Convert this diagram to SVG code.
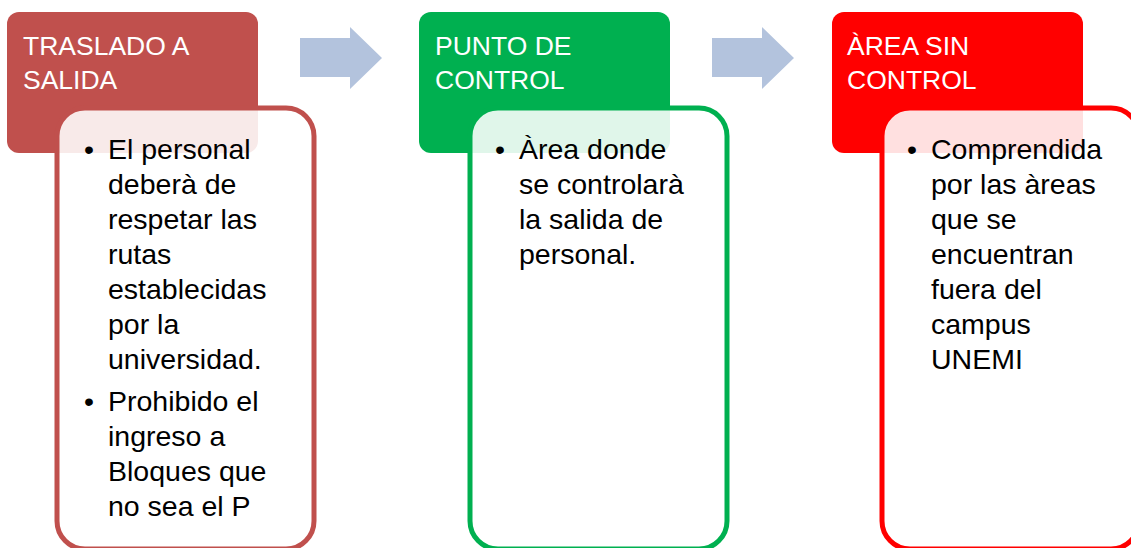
<svg xmlns="http://www.w3.org/2000/svg" width="1131" height="548" viewBox="0 0 1131 548">
<style>
.hd{font-family:"Liberation Sans",Arial,sans-serif;font-size:26.5px;fill:#fff}
.bd{font-family:"Liberation Sans",Arial,sans-serif;font-size:28.5px;fill:#000}
.card{fill:#fff;fill-opacity:0.88;stroke-width:5}
.arrow{fill:#B3C3DD}
</style>
<rect width="1131" height="548" fill="#fff"/>
<g id="connectors">
<polygon class="arrow" points="300,38 350,38 350,27 382,58 350,89 350,77 300,77"/>
<polygon class="arrow" points="712,38 762,38 762,27 794,58 762,89 762,77 712,77"/>
</g>
<g id="node1">
<rect x="7" y="12" width="251" height="141" rx="12" fill="#C0504D"/>
<text class="hd" x="23" y="55">TRASLADO A</text>
<text class="hd" x="23" y="89">SALIDA</text>
<rect class="card" x="57" y="108" width="257" height="441" rx="28" stroke="#C0504D"/>
<text class="bd"><tspan x="84" y="159">•</tspan><tspan x="108" y="159">El personal</tspan><tspan x="108" y="194">deberà de</tspan><tspan x="108" y="229">respetar las</tspan><tspan x="108" y="264">rutas</tspan><tspan x="108" y="299">establecidas</tspan><tspan x="108" y="334">por la</tspan><tspan x="108" y="369">universidad.</tspan><tspan x="84" y="411">•</tspan><tspan x="108" y="411">Prohibido el</tspan><tspan x="108" y="446">ingreso a</tspan><tspan x="108" y="481">Bloques que</tspan><tspan x="108" y="516">no sea el P</tspan></text>
</g>
<g id="node2">
<rect x="419" y="12" width="251" height="141" rx="12" fill="#00B050"/>
<text class="hd" x="435" y="55">PUNTO DE</text>
<text class="hd" x="435" y="89">CONTROL</text>
<rect class="card" x="470" y="108" width="257" height="441" rx="28" stroke="#00B050"/>
<text class="bd"><tspan x="495" y="159">•</tspan><tspan x="519" y="159">Àrea donde</tspan><tspan x="519" y="194">se controlarà</tspan><tspan x="519" y="229">la salida de</tspan><tspan x="519" y="264">personal.</tspan></text>
</g>
<g id="node3">
<rect x="832" y="12" width="251" height="141" rx="12" fill="#FF0000"/>
<text class="hd" x="847" y="55">ÀREA SIN</text>
<text class="hd" x="847" y="89">CONTROL</text>
<rect class="card" x="882" y="108" width="257" height="441" rx="28" stroke="#FF0000"/>
<text class="bd"><tspan x="907" y="159">•</tspan><tspan x="931" y="159">Comprendida</tspan><tspan x="931" y="194">por las àreas</tspan><tspan x="931" y="229">que se</tspan><tspan x="931" y="264">encuentran</tspan><tspan x="931" y="299">fuera del</tspan><tspan x="931" y="334">campus</tspan><tspan x="931" y="369">UNEMI</tspan></text>
</g>
</svg>
